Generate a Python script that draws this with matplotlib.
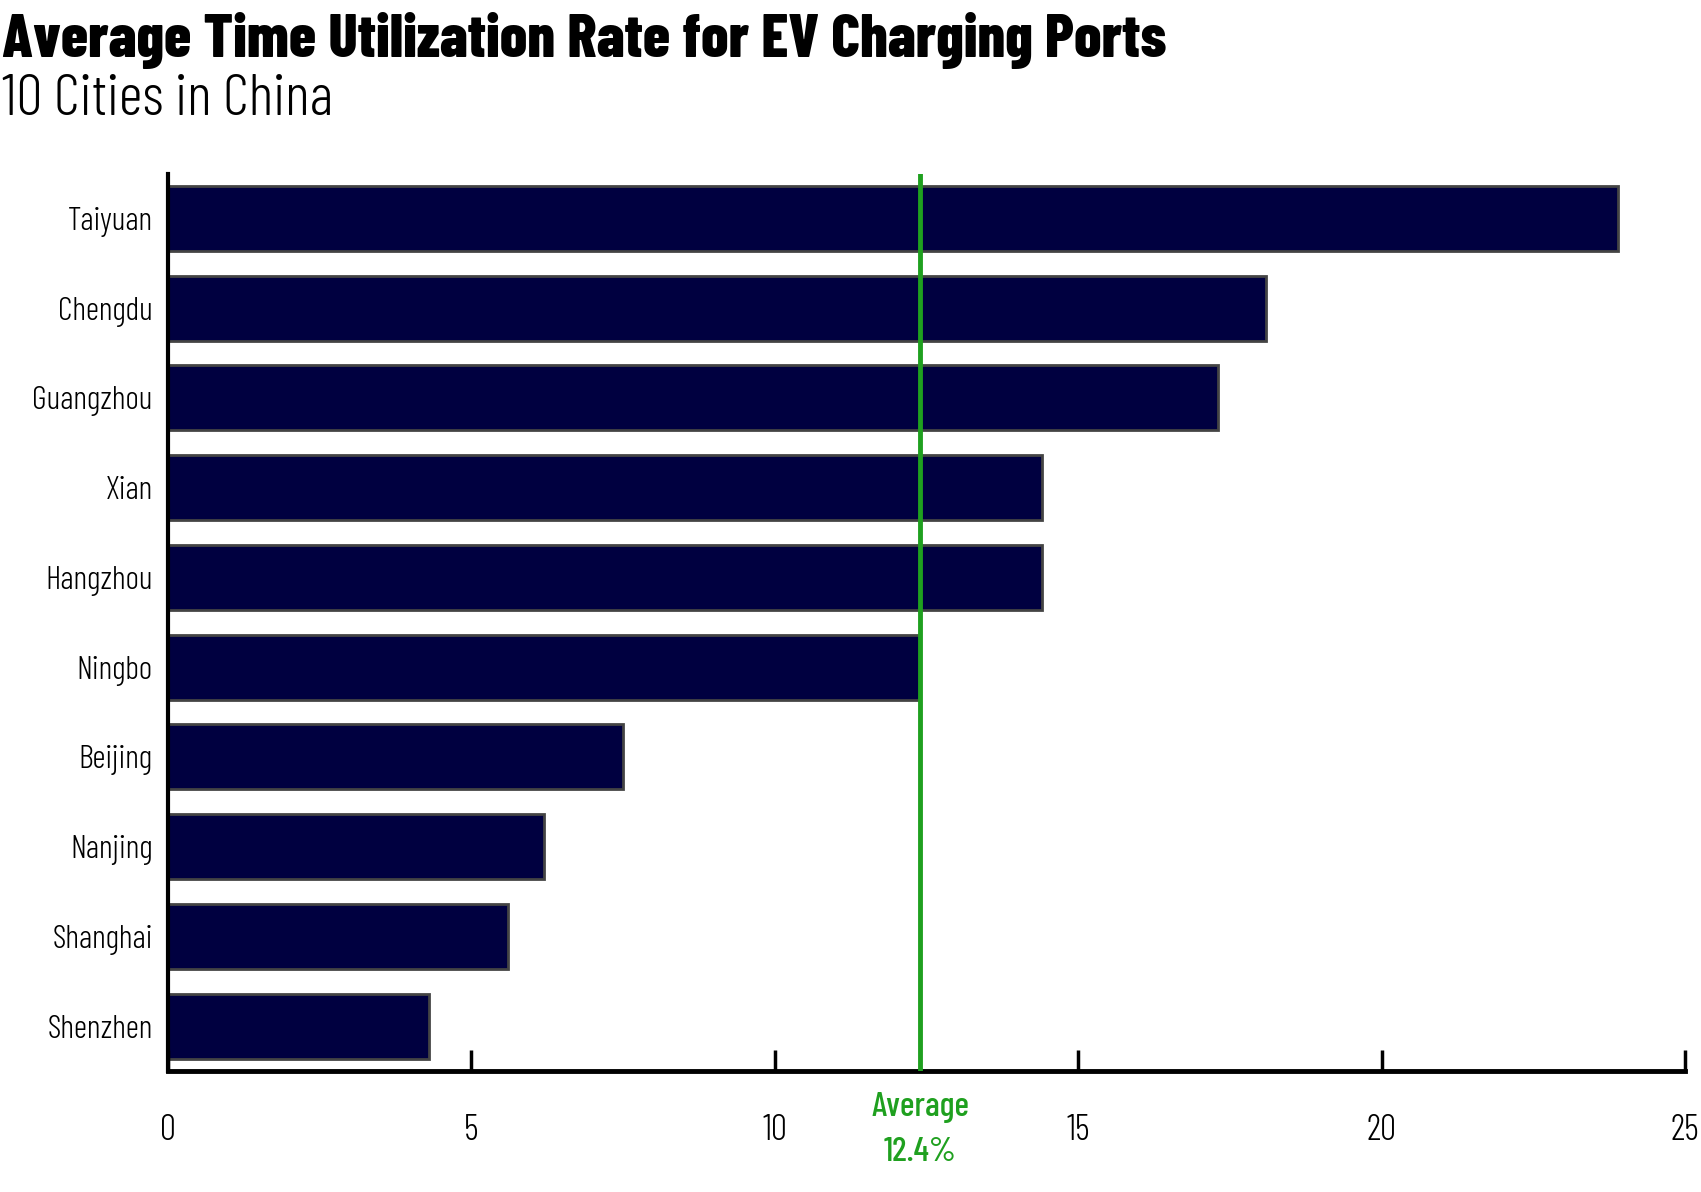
import matplotlib.pyplot as plt

cities = ['Taiyuan', 'Chengdu', 'Guangzhou', 'Xian', 'Hangzhou',
          'Ningbo', 'Beijing', 'Nanjing', 'Shanghai', 'Shenzhen']
rates = [23.9, 18.1, 17.3, 14.4, 14.4, 12.4, 7.5, 6.2, 5.6, 4.3]
average = 12.4
xticks = [0, 5, 10, 15, 20, 25]

plt.rcParams['font.family'] = ['Barlow Condensed', 'DejaVu Sans']

navy = '#000040'
green = '#1fa01f'

fig = plt.figure(figsize=(17.01, 11.92), dpi=100)
ax = fig.add_axes([0.0988, 0.1015, 0.8918, 0.7529])

ax.barh(range(len(cities)), rates, height=0.725, color=navy,
        edgecolor='#444444', linewidth=2)
ax.axvline(average, color=green, linewidth=3.5, zorder=3)

ax.set_ylim(9.5, -0.5)
ax.set_xlim(0, 25)
ax.set_yticks(range(len(cities)))
ax.set_yticklabels(cities, fontsize=23.5, fontweight=300)
ax.set_xticks(xticks)
ax.set_xticklabels([str(t) for t in xticks], fontsize=26, fontweight=300)

ax.tick_params(axis='y', length=0, pad=11)
ax.tick_params(axis='x', direction='in', length=15, width=2.5, pad=31)

for s in ['top', 'right']:
    ax.spines[s].set_visible(False)
ax.spines['left'].set_linewidth(3)
ax.spines['bottom'].set_linewidth(3.5)

# etiqueta da média abaixo do eixo
ax.text(average, -0.041, 'Average', transform=ax.get_xaxis_transform(),
        ha='center', va='center', color=green, fontsize=25, fontweight=500)
ax.text(average, -0.091, '12.4%', transform=ax.get_xaxis_transform(),
        ha='center', va='center', color=green, fontsize=25, fontweight=500)

fig.text(0.001, 0.966, 'Average Time Utilization Rate for EV Charging Ports',
         fontsize=44, fontweight=800, ha='left', va='center')
fig.text(0.001, 0.916, '10 Cities in China', fontsize=42, fontweight=300,
         ha='left', va='center')

fig.savefig('out.png', dpi=100)
